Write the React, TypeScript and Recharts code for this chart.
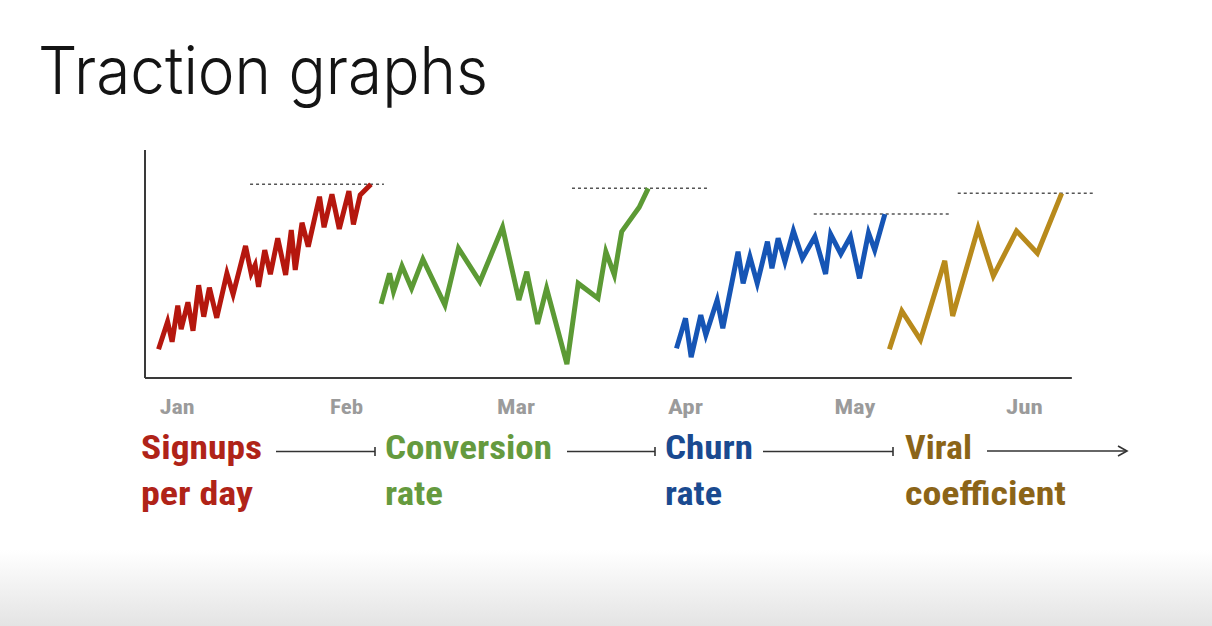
import { Line, LineChart, ReferenceLine, XAxis, YAxis } from 'recharts';

// x is the day of the half-year (Jan label sits mid-month at day 15), y is a 0-100 index
const monthTicks = [15, 45, 75, 105, 135, 165];
const monthLabels = ['Jan', 'Feb', 'Mar', 'Apr', 'May', 'Jun'];
const monthLabelWidths = [35, 33, 38, 35, 41, 37];

const signupDays = [
  11.7, 13.3, 14.1, 15.1, 15.7, 16.9, 17.8, 18.8, 19.7, 20.7, 22.0, 23.8, 24.9, 27.1, 28.1, 28.8, 29.4,
  30.5, 31.5, 32.8, 34.2, 35.2, 35.9, 37.1, 38.2, 40.2, 41.0, 42.4, 43.7, 45.4, 46.2, 47.4, 49.3,
];
const signupValues = [
  12.6, 24.7, 15.9, 31.7, 21.4, 33.2, 20.7, 40.7, 26.9, 39.6, 26.4, 45.9, 36.7, 57.9, 45.9, 49.6, 40.0,
  56.1, 45.5, 61.3, 45.2, 64.9, 47.4, 68.1, 57.6, 79.5, 66.1, 80.6, 65.4, 82.0, 67.4, 80.3, 85.0,
];

const conversionDays = [
  51.1, 52.6, 53.3, 54.8, 56.5, 58.5, 62.4, 64.8, 68.6, 72.6, 75.5, 76.9, 78.8, 80.4, 84.0, 86.0, 89.5,
  90.9, 92.4, 93.7, 96.8, 98.4,
];
const conversionValues = [
  32.5, 45.9, 37.9, 49.1, 39.3, 52.1, 32.0, 56.9, 42.2, 66.1, 34.2, 46.6, 23.7, 39.3, 6.1, 41.5, 35.0,
  55.4, 45.2, 64.2, 74.9, 83.2,
];

const churnDays = [
  103.4, 105.0, 106.0, 107.7, 108.6, 110.6, 111.6, 114.3, 115.2, 116.4, 117.7, 119.5, 120.3, 121.4,
  122.6, 124.1, 125.7, 127.9, 129.8, 130.7, 132.5, 134.2, 135.8, 137.4, 138.5, 140.3,
];
const churnValues = [
  13.0, 26.2, 9.1, 27.6, 18.9, 34.2, 21.8, 55.4, 41.5, 53.2, 41.5, 59.8, 48.1, 61.3, 51.0, 64.5, 52.5,
  62.0, 45.6, 63.0, 54.4, 62.0, 43.7, 63.7, 56.1, 71.9,
];

const viralDays = [141.1, 143.3, 146.6, 150.9, 152.3, 156.8, 159.5, 163.6, 167.3, 171.6];
const viralValues = [12.6, 29.4, 16.7, 51.4, 27.2, 65.7, 44.7, 64.5, 54.7, 81.0];

// targets: [from day, to day, value]
const signupTarget = [27.9, 51.6, 85.0];
const conversionTarget = [84.9, 108.8, 83.2];
const churnTarget = [127.7, 151.8, 71.9];
const viralTarget = [153.2, 177.1, 81.0];

const xDomain = [9.3, 177.5];
const xAxisEnd = 173.4;

const toPoints = (days: number[], values: number[]) => days.map((day, i) => ({ day, value: values[i] }));

const series = [
  { name: 'Signups per day', data: toPoints(signupDays, signupValues), target: signupTarget, color: '#b5170e' },
  { name: 'Conversion rate', data: toPoints(conversionDays, conversionValues), target: conversionTarget, color: '#5c9a35' },
  { name: 'Churn rate', data: toPoints(churnDays, churnValues), target: churnTarget, color: '#1655b5' },
  { name: 'Viral coefficient', data: toPoints(viralDays, viralValues), target: viralTarget, color: '#b88a1c' },
];

const labels = [
  { lines: ['Signups', 'per day'], widths: [121, 112], x: 141, color: '#b02318' },
  { lines: ['Conversion', 'rate'], widths: [167, 58], x: 385, color: '#659a3e' },
  { lines: ['Churn', 'rate'], widths: [88, 57], x: 665, color: '#1a4a90' },
  { lines: ['Viral', 'coefficient'], widths: [67, 161], x: 905, color: '#8b6418' },
];

const arrows = [
  { from: 276, to: 375 },
  { from: 567, to: 655 },
  { from: 763, to: 893 },
];

const condensed = "'Liberation Sans Narrow', 'Roboto Condensed', 'DejaVu Sans Condensed', 'Liberation Sans', Arial, sans-serif";

function MonthTick(props: any) {
  const { x, y, payload, index } = props;
  return (
    <text
      x={x}
      y={y + 36}
      textAnchor="middle"
      fontFamily={condensed}
      fontWeight={700}
      fontSize={21}
      fill="#9b9b9b"
      textLength={monthLabelWidths[index]}
      lengthAdjust="spacingAndGlyphs"
    >
      {monthLabels[monthTicks.indexOf(payload.value)]}
    </text>
  );
}

export default function App() {
  return (
    <div
      style={{
        position: 'absolute',
        left: 0,
        top: 0,
        width: 1212,
        height: 626,
        overflow: 'hidden',
        background: 'linear-gradient(to bottom, #ffffff 0px, #ffffff 550px, #e4e4e4 626px)',
      }}
    >
      <LineChart
        width={1212}
        height={626}
        margin={{ top: 150, right: 117, bottom: 218, left: 145 }}
        style={{ position: 'absolute', left: 0, top: 0 }}
      >
        <XAxis
          type="number"
          dataKey="day"
          domain={xDomain}
          ticks={monthTicks}
          height={30}
          axisLine={false}
          tickLine={false}
          tickSize={0}
          tickMargin={0}
          tick={<MonthTick />}
          allowDataOverflow
        />
        <YAxis type="number" dataKey="value" domain={[0, 100]} hide />
        <ReferenceLine
          segment={[{ x: xDomain[0], y: 0 }, { x: xDomain[0], y: 100 }]}
          stroke="#3a3a3a"
          strokeWidth={2}
        />
        <ReferenceLine
          segment={[{ x: xDomain[0], y: 0 }, { x: xAxisEnd, y: 0 }]}
          stroke="#3a3a3a"
          strokeWidth={2}
        />
        {series.map((s) => (
          <ReferenceLine
            key={`${s.name}-target`}
            segment={[{ x: s.target[0], y: s.target[2] }, { x: s.target[1], y: s.target[2] }]}
            stroke="#555"
            strokeWidth={1.5}
            strokeDasharray="3 3"
            ifOverflow="visible"
          />
        ))}
        {series.map((s) => (
          <Line
            key={s.name}
            data={s.data}
            dataKey="value"
            name={s.name}
            type="linear"
            stroke={s.color}
            strokeWidth={5}
            dot={false}
            activeDot={false}
            isAnimationActive={false}
          />
        ))}
      </LineChart>
      <svg
        width={1212}
        height={626}
        style={{ position: 'absolute', left: 0, top: 0, pointerEvents: 'none' }}
      >
        <text
          x={38}
          y={94}
          fontFamily="Inter, 'Liberation Sans', sans-serif"
          fontWeight={300}
          fontSize={66}
          fill="#141414"
          textLength={450}
          lengthAdjust="spacingAndGlyphs"
        >
          Traction graphs
        </text>
        {labels.map((l) =>
          l.lines.map((line, i) => (
            <text
              key={`${l.x}-${i}`}
              x={l.x}
              y={459 + i * 46}
              fontFamily={condensed}
              fontWeight={700}
              fontSize={33}
              fill={l.color}
              textLength={l.widths[i]}
              lengthAdjust="spacingAndGlyphs"
            >
              {line}
            </text>
          )),
        )}
        {arrows.map((a) => (
          <g key={a.from} stroke="#333" strokeWidth={1.6}>
            <line x1={a.from} y1={451.5} x2={a.to} y2={451.5} />
            <line x1={a.to} y1={447} x2={a.to} y2={456} />
          </g>
        ))}
        <g stroke="#333" strokeWidth={1.6} fill="none">
          <line x1={987} y1={451} x2={1126} y2={451} />
          <polyline points="1118,446 1127,451 1118,456" />
        </g>
      </svg>
    </div>
  );
}
